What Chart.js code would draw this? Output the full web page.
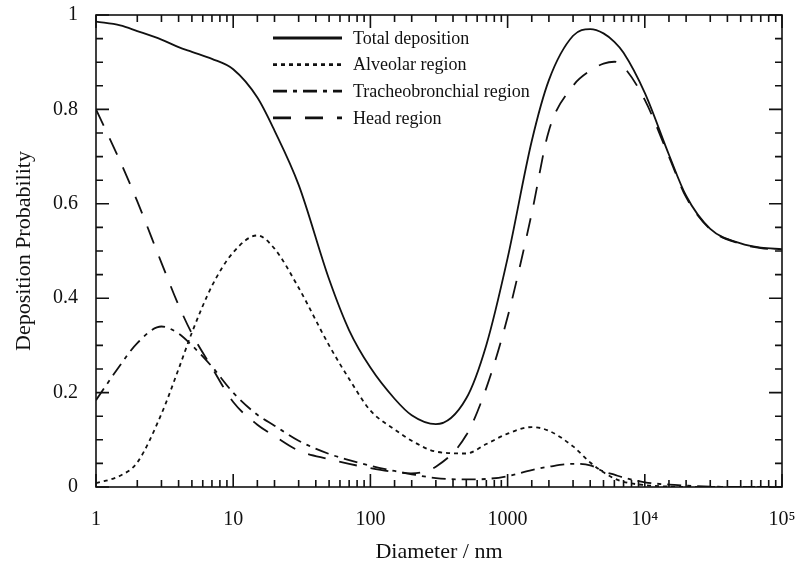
<!DOCTYPE html>
<html>
<head>
<meta charset="utf-8">
<script src="https://cdn.jsdelivr.net/npm/chart.js@4.4.0/dist/chart.umd.min.js"></script>
<style>
  html, body { margin: 0; padding: 0; background: #fff; }
  #wrap { width: 797px; height: 565px; }
</style>
</head>
<body>
<div id="wrap"><canvas id="chartCanvas"></canvas></div>
<script>
const diameters = [1, 1.5, 2, 3, 4, 5, 7, 10, 15, 20, 30, 50, 70, 100, 150, 200, 300, 500, 700,
    1000, 1500, 2000, 3000, 4000, 5000, 6000, 7000, 10000, 15000, 20000, 30000, 50000, 70000, 100000];
const totalDep = [0.986, 0.978, 0.966, 0.948, 0.932, 0.922, 0.907, 0.885, 0.825, 0.755, 0.640, 0.440, 0.332,
    0.253, 0.187, 0.152, 0.133, 0.188, 0.301, 0.485, 0.733, 0.862, 0.956, 0.970, 0.961, 0.943, 0.920, 0.835,
    0.704, 0.617, 0.547, 0.516, 0.507, 0.504];
const alveolar = [0.008, 0.024, 0.052, 0.155, 0.250, 0.327, 0.426, 0.497, 0.533, 0.505, 0.422, 0.300, 0.229,
    0.162, 0.122, 0.098, 0.075, 0.071, 0.091, 0.113, 0.127, 0.119, 0.086, 0.052, 0.031, 0.018, 0.011, 0.004,
    0.001, 0, 0, 0, 0, 0];
const tracheo = [0.184, 0.258, 0.305, 0.340, 0.325, 0.300, 0.255, 0.200, 0.153, 0.130, 0.098, 0.070, 0.057,
    0.045, 0.034, 0.027, 0.019, 0.016, 0.017, 0.023, 0.036, 0.043, 0.049, 0.046, 0.033, 0.026, 0.020, 0.010,
    0.005, 0.003, 0.001, 0, 0, 0];
const headReg = [0.800, 0.690, 0.605, 0.475, 0.385, 0.325, 0.253, 0.180, 0.132, 0.108, 0.077, 0.059, 0.049,
    0.040, 0.032, 0.029, 0.043, 0.110, 0.210, 0.360, 0.580, 0.755, 0.850, 0.882, 0.897, 0.901, 0.890, 0.820,
    0.700, 0.614, 0.546, 0.515, 0.506, 0.503];
const seriesLabels = ["Total deposition", "Alveolar region", "Tracheobronchial region", "Head region"];
const decadeLabels = {1: "1", 10: "10", 100: "100", 1000: "1000", 10000: "10\u2074", 100000: "10\u2075"};

const serif = "'Liberation Serif', 'Times New Roman', serif";
const toPoints = arr => diameters.map((d, i) => ({x: d, y: arr[i]}));

function makeSet(label, arr, dash) {
    return {
        label: label,
        data: toPoints(arr),
        borderColor: "#111",
        borderWidth: 1.8,
        borderDash: dash,
        pointRadius: 0,
        fill: false,
        cubicInterpolationMode: "monotone"
    };
}

// box frame with inward ticks on all four sides
const frameTicks = {
    id: "frameTicks",
    afterDatasetsDraw(chart) {
        const {ctx, chartArea: a, scales: {x, y}} = chart;
        ctx.save();
        ctx.strokeStyle = "#111";
        ctx.lineWidth = 1.6;
        ctx.setLineDash([]);
        ctx.strokeRect(a.left, a.top, a.right - a.left, a.bottom - a.top);
        ctx.beginPath();
        x.ticks.forEach(t => {
            const px = x.getPixelForValue(t.value);
            const lg = Math.log10(t.value);
            const len = Math.abs(lg - Math.round(lg)) < 1e-9 ? 13 : 7;
            ctx.moveTo(px, a.bottom); ctx.lineTo(px, a.bottom - len);
            ctx.moveTo(px, a.top); ctx.lineTo(px, a.top + len);
        });
        y.ticks.forEach(t => {
            const py = y.getPixelForValue(t.value);
            const len = t.label !== "" ? 13 : 7;
            ctx.moveTo(a.left, py); ctx.lineTo(a.left + len, py);
            ctx.moveTo(a.right, py); ctx.lineTo(a.right - len, py);
        });
        ctx.stroke();
        ctx.restore();
    }
};

// legend drawn inside the plot area
const innerLegend = {
    id: "innerLegend",
    afterDraw(chart) {
        const ctx = chart.ctx;
        ctx.save();
        chart.data.datasets.forEach((ds, i) => {
            const yy = 38 + i * 26.6;
            ctx.beginPath();
            ctx.setLineDash(ds.borderDash || []);
            ctx.lineWidth = 2.8;
            ctx.strokeStyle = "#111";
            ctx.moveTo(273, yy);
            ctx.lineTo(342, yy);
            ctx.stroke();
            ctx.setLineDash([]);
            ctx.fillStyle = "#111";
            ctx.font = "18px " + serif;
            ctx.textBaseline = "middle";
            ctx.textAlign = "left";
            ctx.fillText(ds.label, 353, yy + 1);
        });
        ctx.restore();
    }
};

const ctx = document.getElementById("chartCanvas").getContext("2d");

const config = {
    type: "line",
    data: {
        datasets: [
            makeSet(seriesLabels[0], totalDep, []),
            makeSet(seriesLabels[1], alveolar, [4, 4]),
            makeSet(seriesLabels[2], tracheo, [14, 6, 4, 6]),
            makeSet(seriesLabels[3], headReg, [18, 14])
        ]
    },
    options: {
        responsive: true,
        maintainAspectRatio: false,
        animation: false,
        layout: {padding: {top: 15, right: 15, left: 0, bottom: 0}},
        scales: {
            x: {
                type: "logarithmic",
                min: 1,
                max: 100000,
                grid: {display: false, drawTicks: false},
                border: {display: false},
                afterFit: scale => {
                    scale.height = 78;
                    scale.paddingLeft = 0;
                    scale.paddingRight = 0;
                },
                ticks: {
                    autoSkip: false,
                    maxRotation: 0,
                    padding: 21,
                    color: "#111",
                    font: {family: serif, size: 20},
                    callback: value => decadeLabels[value] || ""
                },
                title: {
                    display: true,
                    text: "Diameter / nm",
                    color: "#111",
                    font: {family: serif, size: 22},
                    padding: {top: 0, bottom: 0}
                }
            },
            y: {
                min: 0,
                max: 1,
                grid: {display: false, drawTicks: false},
                border: {display: false},
                afterFit: scale => {
                    scale.width = 96;
                    scale.paddingTop = 0;
                    scale.paddingBottom = 0;
                },
                ticks: {
                    stepSize: 0.05,
                    autoSkip: false,
                    padding: 18,
                    color: "#111",
                    font: {family: serif, size: 20},
                    callback: value => {
                        const r = Math.round(value * 5);
                        return Math.abs(value * 5 - r) < 1e-6 ? String(+(r / 5).toFixed(1)) : "";
                    }
                },
                title: {
                    display: true,
                    text: "Deposition Probability",
                    color: "#111",
                    font: {family: serif, size: 22},
                    padding: {top: 11, bottom: 0}
                }
            }
        },
        plugins: {
            legend: {display: false},
            tooltip: {enabled: false}
        }
    },
    plugins: [frameTicks, innerLegend]
};

const chart = new Chart(ctx, config);
</script>
</body>
</html>
